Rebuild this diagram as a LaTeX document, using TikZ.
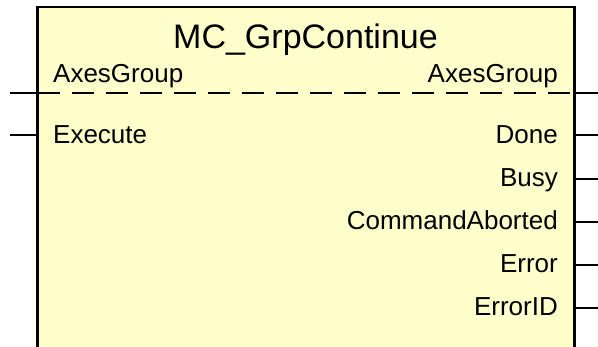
\documentclass[tikz,border=0pt]{standalone}
\usepackage{fontspec}
\setmainfont{Liberation Sans}
\begin{document}
\begin{tikzpicture}[x=1pt,y=-1pt,
  blockfill/.style={fill=fbyellow},
  frame/.style={line width=2.6pt},
  pin/.style={line width=2pt},
  sep/.style={line width=2.6pt, dash pattern=on 22pt off 12pt},
  lbl/.style={inner sep=0pt, font=\fontsize{26}{30}\selectfont},
  ttl/.style={inner sep=0pt, font=\fontsize{34}{40}\selectfont}]
\definecolor{fbyellow}{HTML}{FFFFCC}
\useasboundingbox (0,0) rectangle (598,347);
\begin{scope}
\clip (0,0) rectangle (598,347);
% block outline (open at the bottom)
\coordinate (tl) at (37.5,7);
\coordinate (tr) at (574.5,7);
\coordinate (bl) at (37.5,360);
\coordinate (br) at (574.5,360);
\fill[blockfill] (tl) rectangle (br);
\draw[frame] (bl) -- (tl) -- (tr) -- (br);
% title
\node[ttl, anchor=base] (title) at (305.5,49) {MC\_GrpContinue};
% in-out separator
\coordinate (sepL) at (37.5,93);
\coordinate (sepR) at (574.5,93);
\draw[sep] (sepL) -- (sepR);
% pin ends
\coordinate (inAx) at (10,93);
\coordinate (inEx) at (10,135);
\coordinate (outAx) at (598,93);
\coordinate (outDone) at (598,135);
\coordinate (outBusy) at (598,179);
\coordinate (outCA) at (598,222);
\coordinate (outErr) at (598,265);
\coordinate (outID) at (598,308);
\foreach \p in {inAx,inEx} \draw[pin] (\p) -- (\p -| tl);
\foreach \p in {outAx,outDone,outBusy,outCA,outErr,outID} \draw[pin] (\p) -- (\p -| tr);
% pin labels
\node[lbl, anchor=base west] (lAx) at (53,83) {AxesGroup};
\node[lbl, anchor=base east] (rAx) at (558,83) {AxesGroup};
\node[lbl, anchor=base west] (lEx) at (53,144) {Execute};
\node[lbl, anchor=base east] (lDone) at (558,144) {Done};
\node[lbl, anchor=base east] (lBusy) at (558,187) {Busy};
\node[lbl, anchor=base east] (lCA) at (558,230) {CommandAborted};
\node[lbl, anchor=base east] (lErr) at (558,273) {Error};
\node[lbl, anchor=base east] (lID) at (558,316) {ErrorID};
\end{scope}
\end{tikzpicture}
\end{document}
